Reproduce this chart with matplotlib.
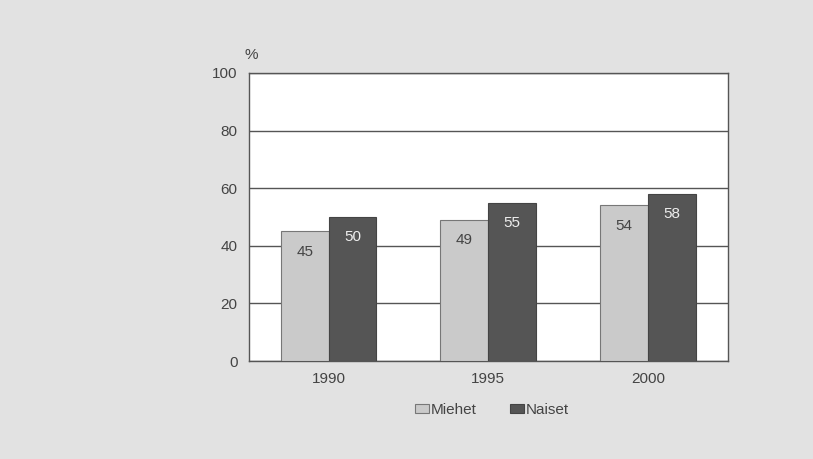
import matplotlib.pyplot as plt
import numpy as np

plt.rcParams['font.family'] = ['Liberation Sans Narrow', 'Liberation Sans', 'DejaVu Sans']

years = ['1990', '1995', '2000']
miehet = [45, 49, 54]
naiset = [50, 55, 58]
yticks = [0, 20, 40, 60, 80, 100]

fig = plt.figure(figsize=(8.13, 4.59), dpi=100)
fig.patch.set_facecolor('#e2e2e2')
ax = fig.add_axes([0.306, 0.2135, 0.589, 0.6275])
ax.set_facecolor('white')

x = np.arange(len(years))
w = 0.3
b1 = ax.bar(x - w/2, miehet, w, color='#cacaca', edgecolor='#777777', linewidth=0.8, label='Miehet', zorder=3)
b2 = ax.bar(x + w/2, naiset, w, color='#555555', edgecolor='#444444', linewidth=0.8, label='Naiset', zorder=3)

for xi, v in zip(x, miehet):
    ax.text(xi - w/2, v - 7, str(v), ha='center', va='center', fontsize=11, color='#444444', zorder=4)
for xi, v in zip(x, naiset):
    ax.text(xi + w/2, v - 7, str(v), ha='center', va='center', fontsize=11, color='#eeeeee', zorder=4)

ax.set_xlim(-0.5, 2.5)
ax.set_ylim(0, 100)
ax.set_yticks(yticks)
ax.set_xticks(x)
ax.set_xticklabels(years)
ax.yaxis.grid(True, color='#555555', linewidth=1.0, zorder=1)
ax.tick_params(length=0, labelsize=11, colors='#444444', pad=8)
for s in ax.spines.values():
    s.set_color('#555555')
    s.set_linewidth(1.0)

ax.text(-0.008, 1.05, '%', transform=ax.transAxes, fontsize=11, color='#444444')

leg = fig.legend(handles=[b1, b2], loc='center', bbox_to_anchor=(0.605, 0.107), ncol=2,
                 frameon=False, fontsize=11, handlelength=0.9, handleheight=0.5,
                 handletextpad=0.1, columnspacing=2.2, labelcolor='#444444')

fig.savefig('out.png', dpi=100, facecolor=fig.get_facecolor())
